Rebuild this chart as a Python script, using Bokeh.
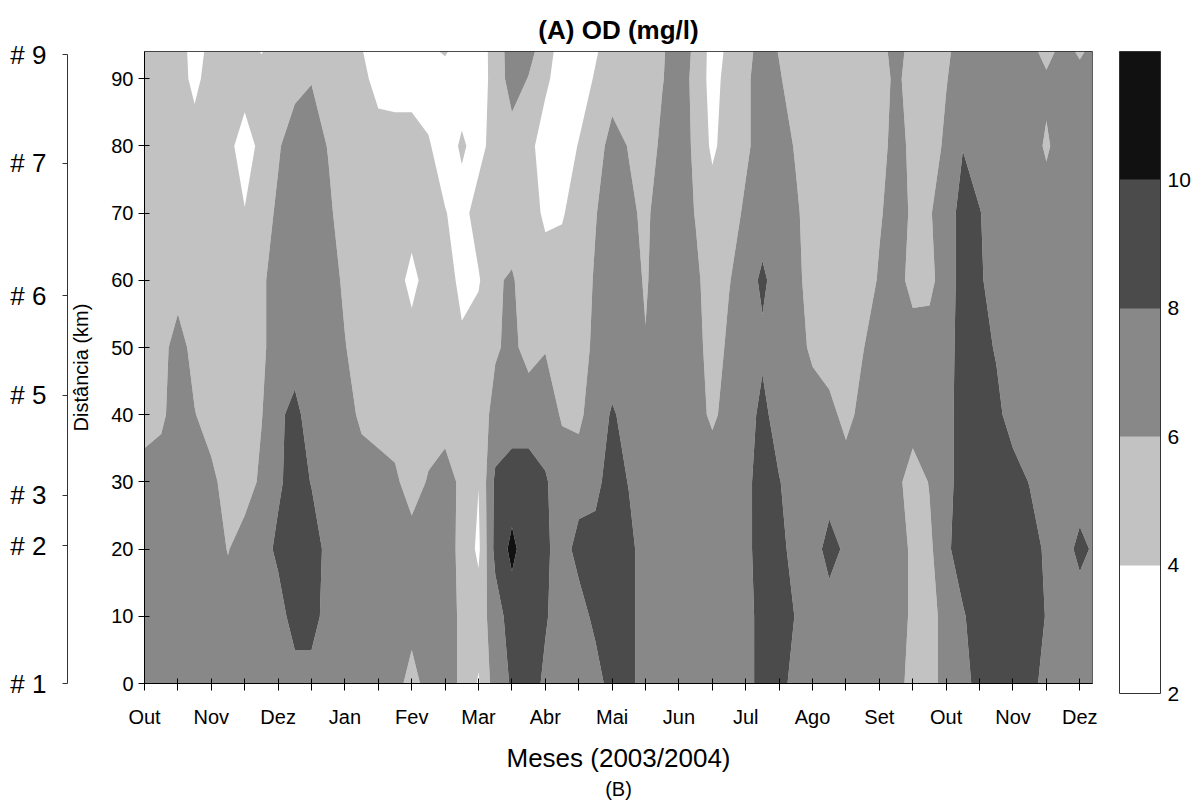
import numpy as np
from bokeh.plotting import figure
from bokeh.models import LinearAxis, FixedTicker, Range1d, Title, ColorBar, LinearColorMapper
from bokeh.embed import file_html
from bokeh.resources import INLINE

FONT = "Liberation Sans"

# grid of sampling positions (months since Oct 2003, km along the river)
months = [0.0, 0.25, 0.5, 0.75, 1.0, 1.25, 1.5, 1.75, 2.0, 2.25,
          2.5, 2.75, 3.0, 3.25, 3.5, 3.75, 4.0, 4.25, 4.5, 4.75,
          5.0, 5.25, 5.5, 5.75, 6.0, 6.25, 6.5, 6.75, 7.0, 7.25,
          7.5, 7.75, 8.0, 8.25, 8.5, 8.75, 9.0, 9.25, 9.5, 9.75,
          10.0, 10.25, 10.5, 10.75, 11.0, 11.25, 11.5, 11.75, 12.0, 12.25,
          12.5, 12.75, 13.0, 13.25, 13.5, 13.75, 14.0, 14.25]
distances = [0, 10, 20, 30, 40, 50, 60, 70, 80, 90, 94]

# dissolved oxygen (mg/l) estimated at each distance row
od_0km = [7, 7, 7, 7, 7, 7, 7, 7, 7, 7,
          7, 7, 7, 7, 7, 7, 5, 7, 7, 5.6,
          3.8, 7, 8.2, 9, 7.6, 7, 7, 7, 9, 8.6,
          7, 7, 7, 7, 7, 7, 7, 9, 9, 7,
          7, 7, 7, 7, 7, 7, 5, 5, 7, 7,
          9, 9, 9, 9, 7, 7, 7, 7]
od_10km = [7, 7, 7, 7, 7, 7, 7, 7, 7, 9,
           9, 7, 7, 7, 7, 7, 7, 7, 7, 5.6,
           5, 7, 9, 9, 8.2, 7, 7, 8.6, 9, 8.6,
           7, 7, 7, 7, 7, 7, 7, 9, 9, 7.9,
           7, 7, 7, 7, 7, 7, 5.6, 5, 7, 7.8,
           9, 9, 9, 9, 7.9, 7, 7, 7]
od_20km = [7, 7, 7, 7, 7, 5.9, 7, 7, 8.5, 9,
           9, 7.4, 7, 7, 7, 7, 7, 7, 7, 5.4,
           3.6, 8.6, 10.5, 8.8, 8.4, 7, 8.8, 8.8, 9, 8.6,
           7, 7, 7, 7, 7, 7, 7.4, 9, 8.8, 7,
           7, 8.8, 7.6, 7, 7, 7, 5.6, 5.6, 7.6, 9,
           9, 9, 9, 9, 7.6, 7.2, 8.5, 7.6]
od_30km = [7, 7, 7, 7, 6.6, 5, 5, 6.4, 7.6, 9,
           7.9, 7, 7, 7, 7, 6.4, 5, 6.2, 7, 5.5,
           4.05, 8.4, 9, 9, 8.2, 7, 7, 7.4, 9, 7.9,
           7, 7, 7, 7, 7, 7, 7.4, 9, 8.1, 7,
           7, 7, 7, 7, 7, 6.6, 5, 6.1, 7.2, 9,
           9, 9, 9, 7.9, 7, 7, 7, 7]
od_40km = [5, 5.6, 7, 6.1, 5, 5, 5, 5.9, 7.6, 8.6,
           7, 7, 6.8, 5.6, 5, 5, 5, 5, 5, 5,
           5, 6.6, 7, 7, 7, 5.8, 5.6, 7, 8.2, 7.4,
           7, 7, 7, 6.6, 5.7, 6.6, 7, 8.6, 7, 7,
           7, 6.6, 5.4, 6.6, 7, 7, 7, 7, 7.2, 9,
           9, 8.6, 7, 7, 7, 7, 7, 7]
od_50km = [5, 5.2, 7, 5.2, 5, 5, 5, 5.6, 7, 7,
           7, 7, 6.1, 5, 5, 5, 5, 5, 5, 4.4,
           5, 5.8, 6.4, 5.4, 5.9, 5.4, 5.2, 6.4, 7, 7,
           6.1, 7, 7, 6.8, 5, 6.4, 7, 7.6, 7, 6.8,
           5.6, 5, 5, 5.9, 7, 7, 7, 7, 7.2, 8.8,
           8.8, 7.8, 7, 7, 7, 7, 7, 7]
od_60km = [5, 5, 5, 5, 5, 5, 5, 5.6, 7, 7,
           7, 7, 5.6, 5, 5, 5, 3.3, 5, 5, 3.4,
           3.8, 5.8, 6.2, 5, 5, 5, 5, 6.2, 7, 6.8,
           5.8, 7, 7, 6.4, 5, 5.9, 7, 8.4, 7, 6.6,
           5, 5, 5, 5, 6.2, 6.8, 5.3, 5.4, 7.2, 8.6,
           8.3, 7, 7, 7, 7, 7, 7, 7]
od_70km = [5, 5, 5, 5, 5, 4.8, 4.1, 5.2, 6.3, 7,
           7, 6.4, 5, 5, 5, 5, 5, 5, 4.1, 3.2,
           5, 5, 5, 5, 3.6, 3.8, 5, 5.9, 7, 6.4,
           5.6, 7, 7, 5.9, 5, 5, 6.4, 7, 7, 6.3,
           5, 5, 5, 5, 5.8, 6.8, 5.7, 5.8, 7.2, 8.6,
           8.1, 7, 7, 7, 7, 7, 7, 7]
od_80km = [5, 5, 5, 5, 5, 4.6, 3.0, 4.6, 5.8, 7,
           7, 5.9, 5, 5, 5, 5, 5, 4.2, 3, 4.3,
           3.2, 5, 5, 4.6, 3, 3, 4.1, 5, 6.8, 5.9,
           5, 6.4, 7, 5.6, 3.6, 5, 5.6, 7, 7, 5.8,
           5, 5, 5, 5, 5.4, 6.6, 5.6, 5, 6.4, 7.95,
           7, 7, 7, 7, 5.7, 7, 7, 7]
od_90km = [5, 5, 5, 3.4, 5, 5, 5, 5, 5, 5.4,
           5.9, 5.2, 5, 4.6, 3.2, 3, 3, 3, 3, 3,
           3.2, 4.6, 7, 5.9, 4.4, 3, 3, 4.2, 5, 5,
           5, 5.9, 7, 5.4, 3.2, 4.8, 5.6, 7, 6.2, 5,
           5, 5, 5, 5, 5.2, 6.4, 5.2, 5, 5.9, 7,
           7, 7, 7, 7, 6.5, 7, 7, 7]
od_94km = [5, 5, 5, 3.2, 4.6, 5, 5, 3.9, 5, 5,
           5, 5, 5, 4.1, 3, 3, 3, 3.6, 4.2, 3,
           3.0, 4.8, 7, 6.6, 5, 3, 3, 3.8, 5, 5,
           5, 5.8, 7, 5.6, 3.2, 4.4, 5.2, 7, 5.9, 5,
           5, 5, 5, 5, 5.4, 6.6, 5.4, 5, 5.6, 7,
           7, 7, 7, 7, 5, 7, 5.6, 7]

levels = [2, 4, 6, 8, 10, 12]
fill_colors = ["#ffffff", "#c2c2c2", "#888888", "#4b4b4b", "#111111"]
colorbar_ticks = [2, 4, 6, 8, 10]

month_ticks = [0, 0.5, 1, 1.5, 2, 2.5, 3, 3.5, 4, 4.5, 5, 5.5, 6, 6.5, 7,
               7.5, 8, 8.5, 9, 9.5, 10, 10.5, 11, 11.5, 12, 12.5, 13, 13.5, 14]
month_names = ["Out", "Nov", "Dez", "Jan", "Fev", "Mar", "Abr", "Mai",
               "Jun", "Jul", "Ago", "Set", "Out", "Nov", "Dez"]
dist_ticks = [0, 10, 20, 30, 40, 50, 60, 70, 80, 90]
station_km = [0, 20.5, 28.0, 42.9, 57.7, 77.4, 93.6]
station_labels = ["# 1", "# 2", "# 3", "# 5", "# 6", "# 7", "# 9"]

z = np.array([od_0km, od_10km, od_20km, od_30km, od_40km, od_50km,
              od_60km, od_70km, od_80km, od_90km, od_94km], dtype=float)

p = figure(frame_width=948, frame_height=632,
           min_border_left=144, min_border_right=110,
           min_border_top=51, min_border_bottom=122,
           x_range=Range1d(0, 14.19), y_range=Range1d(0, 94.05),
           output_backend="svg", toolbar_location=None,
           title="(A) OD (mg/l)")
p.xgrid.visible = False
p.ygrid.visible = False
p.outline_line_color = "#333333"
p.outline_line_width = 1

cr = p.contour(x=months, y=distances, z=z, levels=levels,
               fill_color=fill_colors, line_color=None)

# title
p.title.align = "center"
p.title.text_font = FONT
p.title.text_font_size = "26px"
p.title.text_font_style = "bold"
p.title.text_color = "black"
p.title.standoff = 13

# x axis
xa = p.xaxis[0]
xa.ticker = FixedTicker(ticks=month_ticks)
xa.major_label_overrides = {t: (month_names[int(t)] if float(t).is_integer() else "")
                            for t in month_ticks}
xa.minor_tick_line_color = None
xa.major_tick_in = 5
xa.major_tick_out = 7
xa.major_label_standoff = 15
xa.major_label_text_font = FONT
xa.major_label_text_font_size = "20px"
xa.major_label_text_color = "black"
xa.axis_label = "Meses (2003/2004)"
xa.axis_label_text_font = FONT
xa.axis_label_text_font_size = "26px"
xa.axis_label_text_font_style = "normal"
xa.axis_label_text_color = "black"
xa.axis_label_standoff = 12
xa.axis_line_color = "black"
xa.major_tick_line_color = "black"

# main y axis
ya = p.yaxis[0]
ya.ticker = FixedTicker(ticks=dist_ticks)
ya.minor_tick_line_color = None
ya.major_tick_in = 5
ya.major_tick_out = 6
ya.major_label_standoff = 5
ya.major_label_text_font = FONT
ya.major_label_text_font_size = "20px"
ya.major_label_text_color = "black"
ya.axis_label = "Distância (km)"
ya.axis_label_text_font = FONT
ya.axis_label_text_font_size = "20px"
ya.axis_label_text_font_style = "normal"
ya.axis_label_text_color = "black"
ya.axis_label_standoff = 16
ya.axis_line_color = "black"
ya.major_tick_line_color = "black"

# station axis
sa = LinearAxis(ticker=FixedTicker(ticks=station_km),
                major_label_overrides=dict(zip(station_km, station_labels)),
                bounds=(0, 93.6))
sa.minor_tick_line_color = None
sa.major_tick_in = 0
sa.major_tick_out = 5
sa.major_label_standoff = 16
sa.major_label_text_font = FONT
sa.major_label_text_font_size = "26px"
sa.major_label_text_color = "black"
sa.axis_line_color = "#333333"
sa.major_tick_line_color = "#333333"
p.add_layout(sa, "left")

# bottom caption
p.add_layout(Title(text="(B)", align="center", text_font=FONT,
                   text_font_size="20px", text_font_style="normal",
                   text_color="black", standoff=0), "below")

# colour bar (same classes as the contour levels)
mapper = LinearColorMapper(palette=fill_colors, low=levels[0], high=levels[-1])
cb = ColorBar(color_mapper=mapper, width=41, height=642, padding=0, margin=0,
              location=(975, -10),
              ticker=FixedTicker(ticks=colorbar_ticks),
              major_tick_line_color=None,
              minor_tick_line_color=None,
              major_label_text_font=FONT,
              major_label_text_font_size="21px",
              major_label_text_color="black",
              label_standoff=7,
              bar_line_color="#333333",
              bar_line_width=1,
              border_line_color=None,
              background_fill_alpha=0)
p.add_layout(cb, "center")

open("out.html", "w").write(file_html(p, INLINE))
